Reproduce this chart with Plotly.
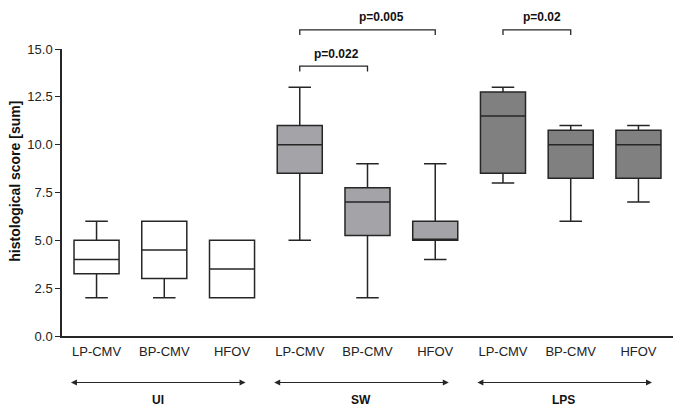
import plotly.graph_objects as go

# ---- data ----
groups = ["UI", "SW", "LPS"]
conditions = ["LP-CMV", "BP-CMV", "HFOV"]

ui_min = [2, 2, 2]
ui_q1 = [3.25, 3, 2]
ui_med = [4, 4.5, 3.5]
ui_q3 = [5, 6, 5]
ui_max = [6, 6, 5]

sw_min = [5, 2, 4]
sw_q1 = [8.5, 5.25, 5]
sw_med = [10, 7, 5]
sw_q3 = [11, 7.75, 6]
sw_max = [13, 9, 9]

lps_min = [8, 6, 7]
lps_q1 = [8.5, 8.25, 8.25]
lps_med = [11.5, 10, 10]
lps_q3 = [12.75, 10.75, 10.75]
lps_max = [13, 11, 11]

y_ticks = [0, 2.5, 5, 7.5, 10, 12.5, 15]
y_title = "histological score [sum]"

# significance brackets: (from index, to index, level, label, label x)
brackets = [
    (3, 4, 14.1, "p=0.022", 3.54),
    (3, 5, 16.0, "p=0.005", 4.21),
    (6, 7, 16.0, "p=0.02", 6.57),
]

# ---- styling ----
FONT = "Liberation Sans, Arial, sans-serif"
LINE = "#262626"
fills = ["#ffffff", "#a3a3a8", "#808080"]
YMAX = 15.0

series = [
    (ui_min, ui_q1, ui_med, ui_q3, ui_max),
    (sw_min, sw_q1, sw_med, sw_q3, sw_max),
    (lps_min, lps_q1, lps_med, lps_q3, lps_max),
]

fig = go.Figure()
positions = []
ticktext = []
for gi, (g, s) in enumerate(zip(groups, series)):
    xs = [gi * len(conditions) + ci for ci in range(len(conditions))]
    positions += xs
    ticktext += conditions
    mn, q1, md, q3, mx = s
    fig.add_trace(go.Box(
        x=xs, lowerfence=mn, q1=q1, median=md, q3=q3, upperfence=mx,
        width=0.665, whiskerwidth=0.5, boxpoints=False,
        fillcolor=fills[gi], line=dict(color=LINE, width=1.5),
        name=g, showlegend=False, hoverinfo="skip",
    ))

# brackets
for a, b, lvl, txt, tx in brackets:
    drop = 0.27
    fig.add_shape(type="path", xref="x", yref="paper",
                  path=f"M {a},{(lvl - drop) / YMAX} L {a},{lvl / YMAX} L {b},{lvl / YMAX} L {b},{(lvl - drop) / YMAX}",
                  line=dict(color=LINE, width=1.3))
    fig.add_annotation(x=tx, y=(lvl + 0.66) / YMAX, xref="x", yref="paper",
                       text=f"<b>{txt}</b>", showarrow=False, yanchor="middle",
                       font=dict(family=FONT, size=12, color="#111"))

# group arrows and labels
for gi, g in enumerate(groups):
    start = gi * 3 - 0.4
    end = gi * 3 + 2.2
    fig.add_annotation(x=end, y=-0.162, ax=start, ay=0,
                       xref="x", yref="paper", axref="x", ayref="pixel",
                       text="", showarrow=True, arrowhead=2, startarrowhead=2,
                       arrowside="end+start", arrowsize=1, startarrowsize=1,
                       arrowwidth=1.2, arrowcolor=LINE)
    fig.add_annotation(x=gi * 3 + 0.9, y=-0.224, xref="x", yref="paper",
                       text=f"<b>{g}</b>", showarrow=False, yanchor="middle",
                       font=dict(family=FONT, size=12, color="#111"))

# y-axis title
fig.add_annotation(x=-0.077, y=0.541, xref="paper", yref="paper",
                   text=f"<b>{y_title}</b>", textangle=-90, showarrow=False,
                   xanchor="center", yanchor="middle",
                   font=dict(family=FONT, size=14, color="#111"))

fig.update_layout(
    width=685, height=413,
    margin=dict(l=62, r=12, t=49, b=77),
    paper_bgcolor="white", plot_bgcolor="white",
    font=dict(family=FONT, size=13, color="#222"),
    xaxis=dict(range=[-0.51, 8.51], tickvals=positions, ticktext=ticktext,
               showline=True, linecolor=LINE, linewidth=1.5, ticks="",
               ticklabelstandoff=3,
               showgrid=False, zeroline=False,
               tickfont=dict(family=FONT, size=13, color="#222")),
    yaxis=dict(range=[0, YMAX], tickvals=y_ticks, tickformat=".1f",
               showline=True, linecolor=LINE, linewidth=1.5,
               ticks="outside", ticklen=5, tickwidth=1.3, tickcolor=LINE,
               showgrid=False, zeroline=False,
               tickfont=dict(family=FONT, size=13, color="#222")),
)

fig.write_html("out.html", config={"displayModeBar": False},
               post_script="document.body.style.margin='0';document.body.style.padding='0';")
